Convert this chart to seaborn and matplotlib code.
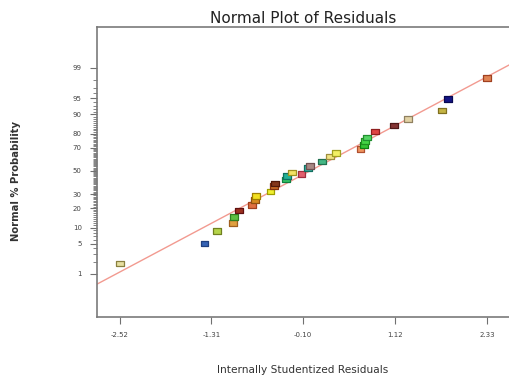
import numpy as np
import pandas as pd
import matplotlib
matplotlib.use("Agg")
import matplotlib.pyplot as plt
import seaborn as sns
from statistics import NormalDist

# Internally studentized residuals and their normal % probability
residuals = [-2.52, -1.40, -1.24, -1.02, -1.01, -0.94, -0.77, -0.73, -0.72, -0.53,
             -0.48, -0.47, -0.32, -0.31, -0.24, -0.12, -0.03, -0.01, 0.15, 0.26,
             0.34, 0.66, 0.70, 0.72, 0.74, 0.85, 1.10, 1.29, 1.74, 1.82, 2.33]
probability = [1.8, 5.1, 8.7, 11.9, 15.0, 18.5, 22.0, 25.6, 28.6, 32.0,
               36.7, 39.0, 42.5, 45.5, 48.5, 47.3, 52.4, 54.5, 58.3, 62.7,
               65.5, 68.8, 72.0, 75.0, 77.6, 81.2, 84.7, 88.0, 91.3, 94.8, 98.2]
fill_colors = ["#e6dfa0", "#3563b5", "#b5d44a", "#e0a040", "#5cc040", "#9c3020",
               "#e07040", "#d88a20", "#f2e020", "#f0f030", "#c86a24", "#84361a",
               "#34c464", "#22b296", "#f2e264", "#e2606e", "#34b2a4", "#a88884",
               "#44b684", "#f2e484", "#f2f064", "#f09460", "#34c434", "#44d444",
               "#54d464", "#e04444", "#843434", "#e2d2a4", "#c4b444", "#141484",
               "#e08454"]
edge_colors = ["#8a8040", "#204080", "#708020", "#a06020", "#308020", "#601010",
               "#a04020", "#905010", "#a08000", "#a0a000", "#803010", "#501808",
               "#108040", "#107060", "#a09020", "#a03040", "#107060", "#705050",
               "#207050", "#a09040", "#a0a020", "#b05030", "#108010", "#209020",
               "#209030", "#902020", "#501818", "#908060", "#807020", "#080850",
               "#a04020"]

# Fitted normal reference line (end points)
line_x = [-2.84, 2.63]
line_p = [0.50, 99.18]

y_major = [1, 5, 10, 20, 30, 50, 70, 80, 90, 95, 99]
x_ticks = [-2.52, -1.31, -0.10, 1.12, 2.33]
x_labels = ["-2.52", "-1.31", "-0.10", "1.12", "2.33"]

_nd = NormalDist()


def probit(p):
    p = np.clip(np.asarray(p, dtype=float), 1e-6, 100 - 1e-6) / 100.0
    return np.vectorize(_nd.inv_cdf, otypes=[float])(p) if p.ndim else _nd.inv_cdf(float(p))


def inv_probit(z):
    z = np.asarray(z, dtype=float)
    return np.vectorize(_nd.cdf, otypes=[float])(z) * 100.0 if z.ndim else _nd.cdf(float(z)) * 100.0


sns.set_style("white")

fig = plt.figure(figsize=(5.09, 3.84), dpi=100)
ax = fig.add_axes([0.1906, 0.1745, 0.8094, 0.7552])
ax.set_yscale("function", functions=(probit, inv_probit))

df = pd.DataFrame({"resid": residuals, "prob": probability,
                   "idx": [str(i) for i in range(len(residuals))]})

ax.plot(line_x, line_p, color="#f29a90", lw=1.0, zorder=1)

rect = [(-1, -0.7), (1, -0.7), (1, 0.7), (-1, 0.7), (-1, -0.7)]
sns.scatterplot(data=df, x="resid", y="prob", hue="idx", palette=fill_colors,
                marker=rect, s=32, linewidth=0.9, legend=False, ax=ax, zorder=3)
ax.collections[0].set_edgecolors(edge_colors)

ax.set_xlim(-2.82, 2.62)
ax.set_ylim(inv_probit(-3.30), inv_probit(3.25))

ax.set_xticks(x_ticks)
ax.set_xticklabels(x_labels)
ax.set_yticks(y_major)
ax.set_yticklabels([str(v) for v in y_major])
ax.set_yticks([v for v in range(2, 99) if v not in y_major], minor=True)

ax.tick_params(axis="both", which="major", direction="out", length=5, width=0.8,
               color="#707070", labelsize=5, labelcolor="#444444", pad=6,
               left=True, bottom=True)
ax.tick_params(axis="y", which="minor", direction="out", length=3, width=0.6,
               color="#707070", left=True)

for side in ["left", "bottom", "top"]:
    ax.spines[side].set_color("#7a7a7a")
    ax.spines[side].set_linewidth(1.2)
ax.spines["right"].set_visible(False)

ax.set_title("Normal Plot of Residuals", fontsize=11, color="#222222", pad=3)
ax.set_xlabel("Internally Studentized Residuals", fontsize=7.6, color="#333333", labelpad=0)
ax.xaxis.set_label_coords(0.5, -0.165)
ax.set_ylabel("Normal % Probability", fontsize=7.2, fontweight="bold", color="#333333")
ax.yaxis.set_label_coords(-0.185, 0.47)

fig.savefig("out.png", dpi=100)
